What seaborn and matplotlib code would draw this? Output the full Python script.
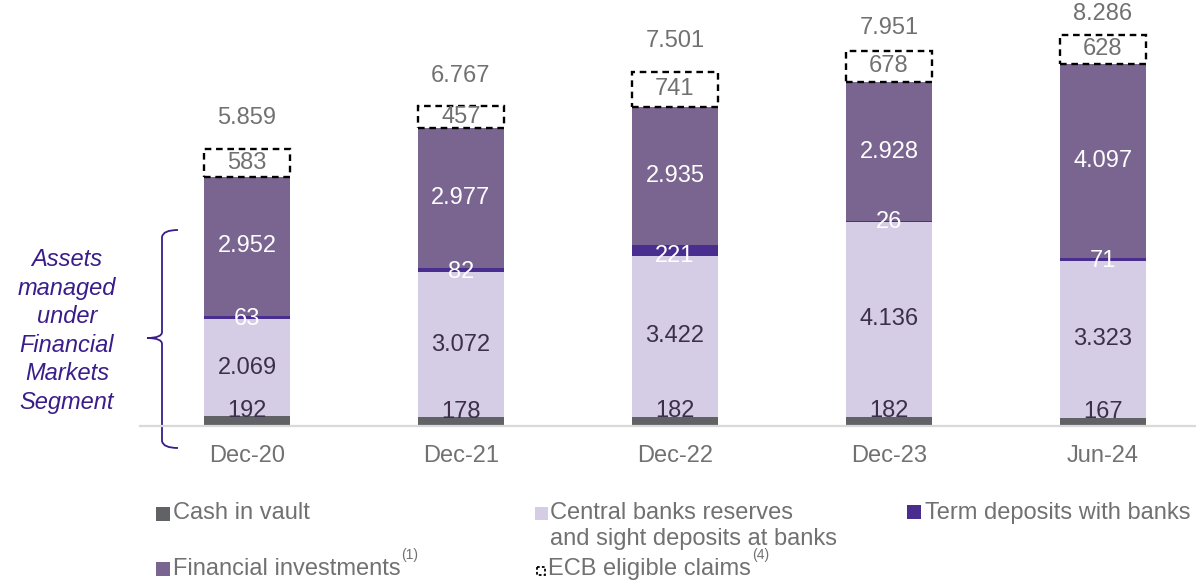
import matplotlib
matplotlib.use("Agg")
import matplotlib.pyplot as plt
import seaborn as sns
import numpy as np
from matplotlib.patches import Rectangle, PathPatch
from matplotlib.path import Path
from matplotlib.transforms import Affine2D

# ---- data (EUR millions) ----
periods = ["Dec-20", "Dec-21", "Dec-22", "Dec-23", "Jun-24"]
cash_in_vault = [192, 178, 182, 182, 167]
central_bank_reserves = [2069, 3072, 3422, 4136, 3323]
term_deposits = [63, 82, 221, 26, 71]
financial_investments = [2952, 2977, 2935, 2928, 4097]
ecb_eligible_claims = [583, 457, 741, 678, 628]
total_liquidity = [5859, 6767, 7501, 7951, 8286]

# ---- style ----
sns.set_style("white")
plt.rcParams["font.family"] = ["Liberation Sans", "DejaVu Sans"]

C_CASH = "#606266"
C_CENTRAL = "#d5cde5"
C_TERM = "#4a2e8f"
C_FIN = "#7a6590"
C_GREY_TXT = "#717171"
C_DARK_TXT = "#3b3048"
C_BRACE = "#3a1d8a"
FS = 17

W, H = 1196, 581
fig = plt.figure(figsize=(W / 100, H / 100), dpi=100)
ax = fig.add_axes([140 / W, (H - 425.5) / H, (W - 140) / W, 425.5 / H])

# pixel coordinates measured from the top-left corner of the figure
px = Affine2D().scale(1 / W, -1 / H).translate(0, 1) + fig.transFigure


def fmt(v):
    return f"{v:,}".replace(",", ".")


# ---- stacked bars ----
layers = [
    (cash_in_vault, C_CASH),
    (central_bank_reserves, C_CENTRAL),
    (term_deposits, C_TERM),
    (financial_investments, C_FIN),
]
bottom = np.zeros(len(periods))
bottoms = []
for vals, color in layers:
    sns.barplot(x=periods, y=vals, bottom=bottom.copy(), color=color,
                saturation=1, width=0.4, edgecolor="none", linewidth=0, ax=ax)
    bottoms.append(bottom.copy())
    bottom = bottom + np.array(vals)

ecb_bottom = bottom.copy()
sns.barplot(x=periods, y=ecb_eligible_claims, bottom=ecb_bottom, color="white",
            saturation=1, width=0.4, edgecolor="black", linewidth=1.7,
            linestyle=(0, (2.8, 2.0)), ax=ax)
stack_top = ecb_bottom + np.array(ecb_eligible_claims)

# ---- value labels ----
xs = np.arange(len(periods))
for i in xs:
    # cash sits on a thin bar: label rests just on top of it
    ax.text(i, cash_in_vault[i] * 0.95, fmt(cash_in_vault[i]), ha="center",
            va="baseline", fontsize=FS, color=C_DARK_TXT)
    ax.text(i, bottoms[1][i] + central_bank_reserves[i] / 2,
            fmt(central_bank_reserves[i]), ha="center", va="center",
            fontsize=FS, color=C_DARK_TXT)
    ax.text(i, bottoms[2][i], fmt(term_deposits[i]), ha="center", va="center",
            fontsize=FS, color="white")
    ax.text(i, bottoms[3][i] + financial_investments[i] / 2,
            fmt(financial_investments[i]), ha="center", va="center",
            fontsize=FS, color="white")
    ax.text(i, ecb_bottom[i] + ecb_eligible_claims[i] / 2,
            fmt(ecb_eligible_claims[i]), ha="center", va="center",
            fontsize=FS, color=C_GREY_TXT)

total_gap_px = [31, 30, 31, 22, 21]
for i in xs:
    ax.annotate(fmt(total_liquidity[i]), (i, stack_top[i]),
                xytext=(0, total_gap_px[i]), textcoords="offset pixels",
                ha="center", va="center", fontsize=FS, color=C_GREY_TXT)

# ---- axes ----
ax.set_xlim(-0.5, -0.5 + (W - 140) / 214)
ax.set_ylim(0, 425.5 * 21.2)
ax.set_xlabel("")
ax.set_ylabel("")
ax.set_yticks([])
for s in ["top", "left", "right"]:
    ax.spines[s].set_visible(False)
ax.spines["bottom"].set_color("#d9d9d9")
ax.spines["bottom"].set_linewidth(1.6)
ax.tick_params(axis="x", length=0, pad=14, labelsize=FS, labelcolor=C_GREY_TXT)
ax.patch.set_alpha(0)
ax.set_zorder(1)

# ---- brace and segment note ----
brace = Path(
    [(178, 230), (163, 230), (162, 237),
     (162, 332),
     (162, 338), (147, 338),
     (162, 338), (162, 344),
     (162, 441),
     (163, 448), (178, 448)],
    [Path.MOVETO, Path.CURVE3, Path.CURVE3,
     Path.LINETO,
     Path.CURVE3, Path.CURVE3,
     Path.CURVE3, Path.CURVE3,
     Path.LINETO,
     Path.CURVE3, Path.CURVE3],
)
fig.patches.append(PathPatch(brace, transform=px, fill=False, edgecolor=C_BRACE,
                             linewidth=1.3, zorder=0))

note_lines = ["Assets", "managed", "under", "Financial", "Markets", "Segment"]
for k, line in enumerate(note_lines):
    fig.text(67 / W, 1 - (266 + 28.5 * k) / H, line, ha="center", va="baseline",
             fontsize=FS, style="italic", color=C_BRACE)

# ---- legend ----
def legend_square(x, y_top, size, color, **kw):
    fig.patches.append(Rectangle((x, y_top), size, size, transform=px,
                                 facecolor=color, **kw))


def legend_text(x, baseline, s, note=None):
    t = fig.text(x / W, 1 - baseline / H, s, ha="left", va="baseline",
                 fontsize=FS, color=C_GREY_TXT)
    if note is not None:
        fig.canvas.draw()
        bb = t.get_window_extent()
        fig.text((bb.x1 + 1) / W, 1 - (baseline - 16) / H, note, ha="left",
                 va="baseline", fontsize=10, color=C_GREY_TXT)


legend_square(156, 507, 14, C_CASH, edgecolor="none")
legend_text(173, 519, "Cash in vault")

legend_square(535, 507, 13, C_CENTRAL, edgecolor="none")
legend_text(550, 519, "Central banks reserves")
legend_text(550, 545, "and sight deposits at banks")

legend_square(907, 505, 14, C_TERM, edgecolor="none")
legend_text(925, 519, "Term deposits with banks")

legend_square(156, 562, 14, C_FIN, edgecolor="none")
legend_text(173, 575, "Financial investments", note="(1)")

legend_square(537, 567, 8, "white", edgecolor="black", linewidth=1.3,
              linestyle=(0, (1.5, 1.2)))
legend_text(548, 575, "ECB eligible claims", note="(4)")

fig.savefig("out.png", dpi=100)
